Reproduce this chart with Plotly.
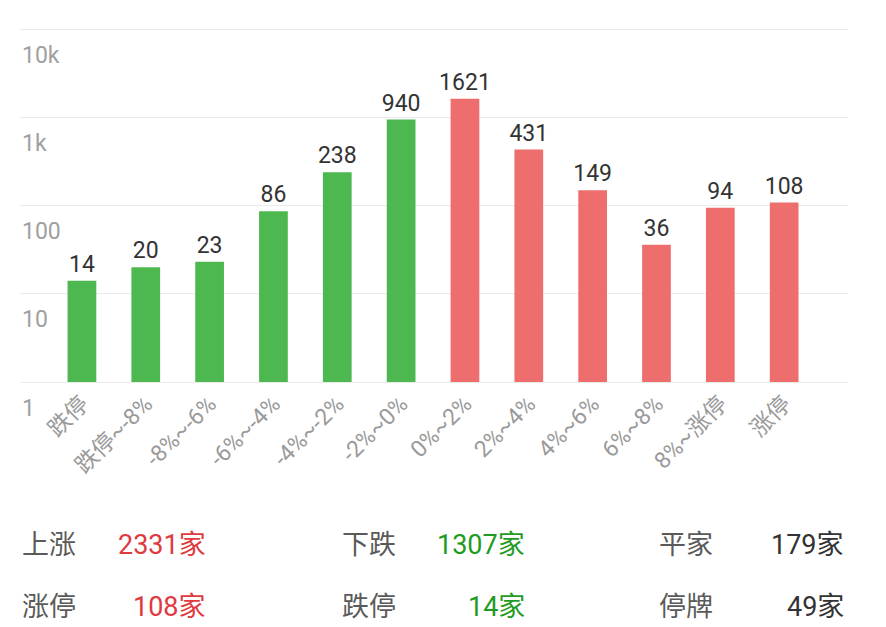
import math
import plotly.graph_objects as go

# 涨跌分布 (number of stocks per price-change bucket)
categories = ["跌停", "跌停~-8%", "-8%~-6%", "-6%~-4%", "-4%~-2%", "-2%~0%",
              "0%~2%", "2%~4%", "4%~6%", "6%~8%", "8%~涨停", "涨停"]
counts = [14, 20, 23, 86, 238, 940, 1621, 431, 149, 36, 94, 108]
is_up = [False] * 6 + [True] * 6

y_tickvals = [1, 10, 100, 1000, 10000]
y_ticktext = ["1", "10", "100", "1k", "10k"]

# summary rows under the chart
row1_labels = ["上涨", "下跌", "平家"]
row1_values = ["2331家", "1307家", "179家"]
row2_labels = ["涨停", "跌停", "停牌"]
row2_values = ["108家", "14家", "49家"]

GREEN = "#4db84f"
RED = "#ee6e6e"
FONT = "Roboto, Noto Sans CJK SC"

bar_colors = [RED if u else GREEN for u in is_up]

fig = go.Figure()
fig.add_trace(go.Bar(
    x=categories, y=[c - 1 for c in counts], base=1,
    marker=dict(color=bar_colors, line=dict(width=0)),
    width=0.45,
    text=[str(c) for c in counts],
    textposition="outside",
    constraintext="none",
    textfont=dict(size=23, color="#333333", family=FONT),
    cliponaxis=False,
))

# page body has an 8px margin, so the figure is 8px smaller each way
# y range padded ~3px so the 1 and 10k gridlines still get drawn
fig.update_layout(
    width=878, height=619,
    margin=dict(l=12, r=38, t=18, b=242),
    plot_bgcolor="white", paper_bgcolor="white",
    showlegend=False,
    font=dict(family=FONT),
)
fig.update_xaxes(
    range=[-0.97, 12.0],
    tickangle=-45,
    tickfont=dict(size=23, color="#9a9a9a", family=FONT),
    showgrid=False, showline=False, ticks="",
    automargin=False,
)
fig.update_yaxes(
    type="log", range=[-0.034, 4.034],
    tickvals=y_tickvals,
    showticklabels=False,
    showgrid=True, gridcolor="#ebebeb", gridwidth=1,
    zeroline=False, showline=False, ticks="",
    automargin=False,
)

# y tick labels sit just under their gridlines
for v, t in zip(y_tickvals, y_ticktext):
    fig.add_annotation(x=0, y=math.log10(v), xref="paper", yref="y",
                       text=t, showarrow=False, xanchor="left", yanchor="middle",
                       yshift=-26, font=dict(size=23, color="#a0a0a0", family=FONT))

# summary annotations (page pixel positions -> paper coords of the plot area)
plot_left, plot_w = 20, 828
plot_bottom, plot_h = 385, 359
label_x = [20, 340, 657]
value_x = [208, 527, 846]
value_colors = ["#e0393e", "#1f9c1f", "#333333"]
for row_y, labels, values in [(545, row1_labels, row1_values),
                              (607, row2_labels, row2_values)]:
    py = (plot_bottom - row_y) / plot_h
    for i in range(3):
        fig.add_annotation(x=(label_x[i] - plot_left) / plot_w, y=py, xref="paper", yref="paper",
                           text=labels[i], showarrow=False, xanchor="left", yanchor="middle",
                           font=dict(size=27, color="#5a5a5a", family=FONT))
        fig.add_annotation(x=(value_x[i] - plot_left) / plot_w, y=py, xref="paper", yref="paper",
                           text=values[i], showarrow=False, xanchor="right", yanchor="middle",
                           font=dict(size=27, color=value_colors[i], family=FONT))

fig.write_html("out.html")
